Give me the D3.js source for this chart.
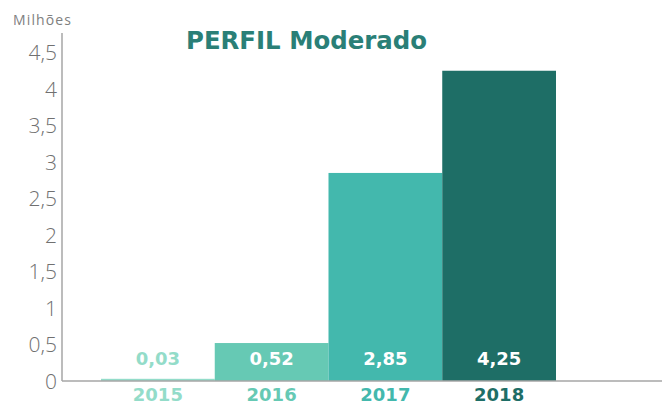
<!DOCTYPE html>
<html>
<head>
<meta charset="utf-8">
<script src="https://cdn.jsdelivr.net/npm/d3@7"></script>
<style>
  html, body { margin: 0; padding: 0; background: #fff; }
  svg { display: block; font-family: "Open Sans", "Lato", sans-serif; }
  .bold { font-family: "DejaVu Sans", "Open Sans", sans-serif; font-weight: 700; }
</style>
</head>
<body>
<svg id="chart" width="662" height="406"></svg>
<script>
// dados do gráfico
const years = ['2015', '2016', '2017', '2018'];
const values = [0.03, 0.52, 2.85, 4.25];
const valueLabels = ['0,03', '0,52', '2,85', '4,25'];
const yTicks = [0, 0.5, 1, 1.5, 2, 2.5, 3, 3.5, 4, 4.5];
const yTickLabels = ['0', '0,5', '1', '1,5', '2', '2,5', '3', '3,5', '4', '4,5'];
const barColors = ['#93dcc9', '#66c9b4', '#43b8ad', '#1e6e66'];
const title = 'PERFIL Moderado';
const unitLabel = 'Milhões';

const svg = d3.select('#chart');

// escalas
const x = d3.scaleBand()
    .domain(years)
    .range([101, 556])
    .padding(0);

const y = d3.scaleLinear()
    .domain([0, 4.5])
    .range([381, 52.5]);

// barras
svg.append('g')
  .selectAll('rect')
  .data(years)
  .join('rect')
    .attr('x', d => x(d))
    .attr('width', x.bandwidth())
    .attr('y', (d, i) => y(values[i]))
    .attr('height', (d, i) => y(0) - y(values[i]))
    .attr('fill', (d, i) => barColors[i]);

// eixos
svg.append('line')
    .attr('x1', 62).attr('x2', 62)
    .attr('y1', 33).attr('y2', y(0))
    .attr('stroke', '#a6a6a6').attr('stroke-width', 1.5);
svg.append('line')
    .attr('x1', 62).attr('x2', 662)
    .attr('y1', y(0)).attr('y2', y(0))
    .attr('stroke', '#a6a6a6').attr('stroke-width', 1.5);

// rótulos do eixo Y
svg.append('g')
  .selectAll('text')
  .data(yTicks)
  .join('text')
    .attr('x', 57)
    .attr('y', d => y(d))
    .attr('dy', '0.36em')
    .attr('text-anchor', 'end')
    .attr('font-size', 21)
    .attr('font-weight', 300)
    .attr('fill', '#707070')
    .text((d, i) => yTickLabels[i]);

// unidade
svg.append('text')
    .attr('x', 13).attr('y', 25)
    .attr('font-size', 14)
    .attr('textLength', 58)
    .attr('fill', '#808080')
    .text(unitLabel);

// título
svg.append('text')
    .attr('class', 'bold')
    .attr('x', 186).attr('y', 49)
    .attr('font-size', 25)
    .attr('textLength', 241)
    .attr('lengthAdjust', 'spacingAndGlyphs')
    .attr('fill', '#2a7f77')
    .text(title);

// valores nas barras
svg.append('g')
  .selectAll('text')
  .data(years)
  .join('text')
    .attr('class', 'bold')
    .attr('x', d => x(d) + x.bandwidth() / 2)
    .attr('y', 364.5)
    .attr('text-anchor', 'middle')
    .attr('font-size', 18)
    .attr('fill', (d, i) => values[i] < 0.3 ? barColors[i] : '#ffffff')
    .text((d, i) => valueLabels[i]);

// anos
svg.append('g')
  .selectAll('text')
  .data(years)
  .join('text')
    .attr('class', 'bold')
    .attr('x', d => x(d) + x.bandwidth() / 2)
    .attr('y', 401)
    .attr('text-anchor', 'middle')
    .attr('font-size', 18)
    .attr('fill', (d, i) => barColors[i])
    .text(d => d);
</script>
</body>
</html>
